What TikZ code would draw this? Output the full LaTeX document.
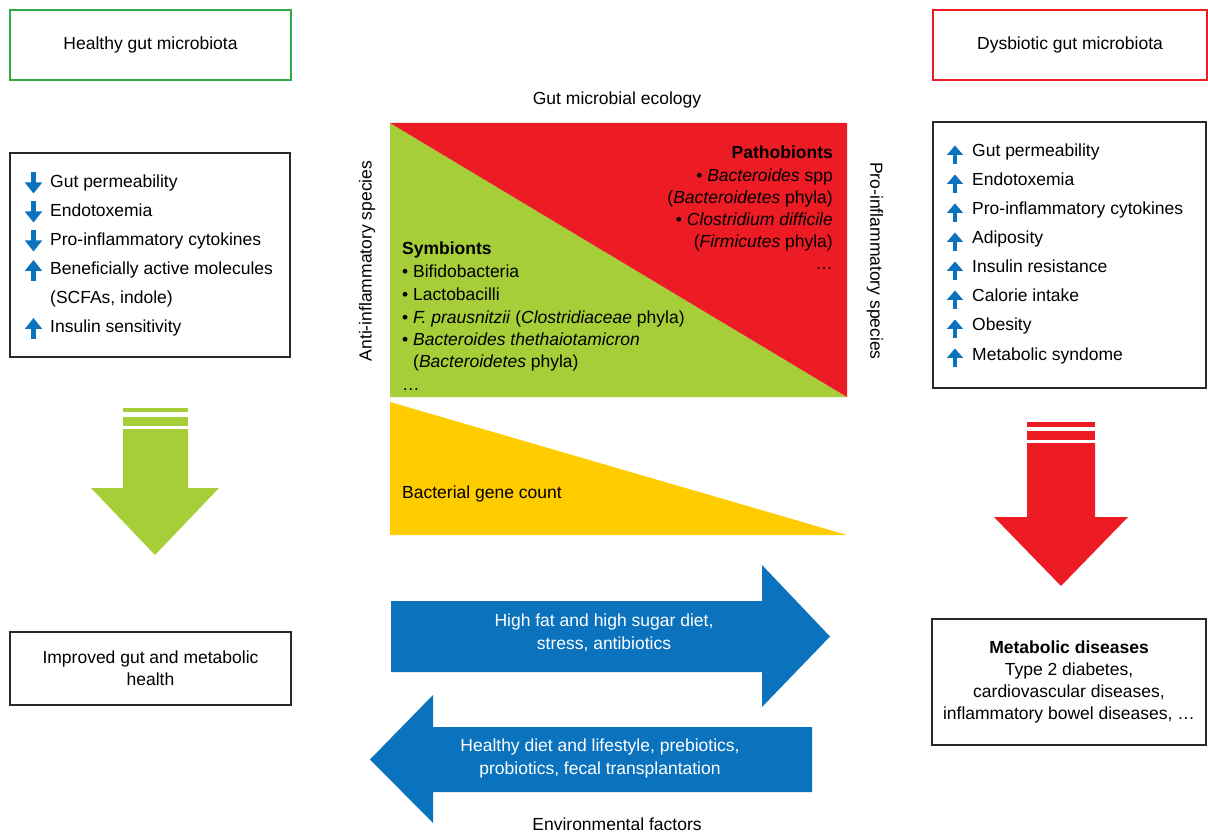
\documentclass[tikz,border=0pt]{standalone}
\usepackage{fontspec}
\setmainfont{Liberation Sans}
\definecolor{leaf}{RGB}{166,206,57}
\definecolor{alarm}{RGB}{237,28,36}
\definecolor{gold}{RGB}{255,204,0}
\definecolor{flow}{RGB}{11,114,189}
\definecolor{frame}{RGB}{40,40,40}
\definecolor{okgreen}{RGB}{46,170,70}
\tikzset{
  txt/.style={font=\fontsize{17.5}{22}\selectfont, inner sep=0pt},
  box/.style={draw=frame, line width=1.6pt, fill=white},
  item/.style={txt, anchor=base west},
  % arrow icons of the healthy list (larger)
  downicon/.pic={
    \fill[flow] (-2.2,-10) rectangle (2.2,0.5);
    \fill[flow] (-8.7,0) -- (8.7,0) -- (0,11) -- cycle;},
  upicon/.pic={
    \fill[flow] (-2.2,10) rectangle (2.2,-0.5);
    \fill[flow] (-8.7,0) -- (8.7,0) -- (0,-11) -- cycle;},
  % arrow icons of the dysbiotic list (smaller)
  upsmall/.pic={
    \fill[flow] (-2,9.5) rectangle (2,-0.5);
    \fill[flow] (-8.2,0.5) -- (8.2,0.5) -- (0,-9) -- cycle;},
}
\begin{document}
\begin{tikzpicture}[x=1pt,y=-1pt]
\useasboundingbox (0,0) rectangle (1208,834);

% --- headers ---
\node[box, draw=okgreen, txt, minimum width=281pt, minimum height=70pt] (healthy) at (150.5,45) {Healthy gut microbiota};
\node[box, draw=alarm, txt, minimum width=274pt, minimum height=70pt] (dysbiotic) at (1070,45) {Dysbiotic gut microbiota};

% --- healthy effects ---
\node[box, minimum width=280pt, minimum height=204pt] (goodlist) at (150,255) {};
\pic at (33.5,182.5) {downicon}; \node[item] (g1) at (50,188) {Gut permeability};
\pic at (33.5,211.5) {downicon}; \node[item] (g2) at (50,217) {Endotoxemia};
\pic at (33.5,240.5) {downicon}; \node[item] (g3) at (50,246) {Pro-inflammatory cytokines};
\pic at (33.5,271) {upicon};     \node[item] (g4) at (50,275) {Beneficially active molecules};
                                 \node[item] (g5) at (50,304) {(SCFAs, indole)};
\pic at (33.5,329) {upicon};     \node[item] (g6) at (50,333) {Insulin sensitivity};

% --- dysbiotic effects ---
\node[box, minimum width=273pt, minimum height=266pt] (badlist) at (1069.5,255) {};
\foreach \t [count=\k from 0] in {Gut permeability, Endotoxemia, Pro-inflammatory cytokines, Adiposity, Insulin resistance, Calorie intake, Obesity, Metabolic syndome}{
  \pic at (955,154.5+29*\k) {upsmall};
  \node[item] (b\k) at (972,157+29*\k) {\t};
}

% --- microbial ecology panel ---
\node[txt] (ecology) at (617,100) {Gut microbial ecology};
\fill[leaf] (390,123) -- (390,397) -- (847,397) -- cycle;
\fill[alarm] (390,123) -- (847,123) -- (847,397) -- cycle;
\node[txt, rotate=90] (anti) at (367,261) {Anti-inflammatory species};
\node[txt, rotate=-90] (pro) at (875,261) {Pro-inflammatory species};

\node[txt, anchor=base east] (p0) at (833,159) {\textbf{Pathobionts}};
\node[txt, anchor=base east] (p1) at (833,182) {• \textit{Bacteroides} spp};
\node[txt, anchor=base east] (p2) at (833,204) {(\textit{Bacteroidetes} phyla)};
\node[txt, anchor=base east] (p3) at (833,226) {• \textit{Clostridium difficile}};
\node[txt, anchor=base east] (p4) at (833,248) {(\textit{Firmicutes} phyla)};
\node[txt, anchor=base east] (p5) at (833,270) {…};

\node[item] (s0) at (402,255) {\textbf{Symbionts}};
\node[item] (s1) at (402,278) {• Bifidobacteria};
\node[item] (s2) at (402,301) {• Lactobacilli};
\node[item] (s3) at (402,324) {• \textit{F. prausnitzii} (\textit{Clostridiaceae} phyla)};
\node[item] (s4) at (402,346) {• \textit{Bacteroides thethaiotamicron}};
\node[item] (s5) at (402,368) {\hphantom{•} (\textit{Bacteroidetes} phyla)};
\node[item] (s6) at (402,390) {…};

\fill[gold] (390,402) -- (390,535) -- (847,535) -- cycle;
\node[item] (genes) at (402,498) {Bacterial gene count};

% --- outcome arrows ---
\fill[leaf] (123,408) rectangle (188,412);
\fill[leaf] (123,417) rectangle (188,426);
\fill[leaf] (123,429) -- (188,429) -- (188,488) -- (219,488) -- (155,555) -- (91,488) -- (123,488) -- cycle;

\fill[alarm] (1027,422) rectangle (1095,427);
\fill[alarm] (1027,431) rectangle (1095,440);
\fill[alarm] (1027,443) -- (1095,443) -- (1095,517) -- (1128,517) -- (1061,586) -- (994,517) -- (1027,517) -- cycle;

% --- outcomes ---
\node[box, txt, align=center, minimum width=281pt, minimum height=73pt] (improved) at (150.5,668.5) {Improved gut and metabolic\\health};
\node[box, txt, align=center, minimum width=274pt, minimum height=126pt] (diseases) at (1069,682) {\textbf{Metabolic diseases}\\Type 2 diabetes,\\cardiovascular diseases,\\inflammatory bowel diseases, …};

% --- environmental factors ---
\fill[flow] (391,601) -- (762,601) -- (762,565) -- (830,636.5) -- (762,707) -- (762,672) -- (391,672) -- cycle;
\node[txt, text=white, align=center, font=\fontsize{17.5}{23}\selectfont] (worse) at (604,633) {High fat and high sugar diet,\\stress, antibiotics};
\fill[flow] (812,727) -- (433,727) -- (433,695) -- (370,759.5) -- (433,823) -- (433,792) -- (812,792) -- cycle;
\node[txt, text=white, align=center, font=\fontsize{17.5}{23}\selectfont] (better) at (600,758) {Healthy diet and lifestyle, prebiotics,\\probiotics, fecal transplantation};
\node[txt] (env) at (617,824) {Environmental factors};
\end{tikzpicture}
\end{document}
